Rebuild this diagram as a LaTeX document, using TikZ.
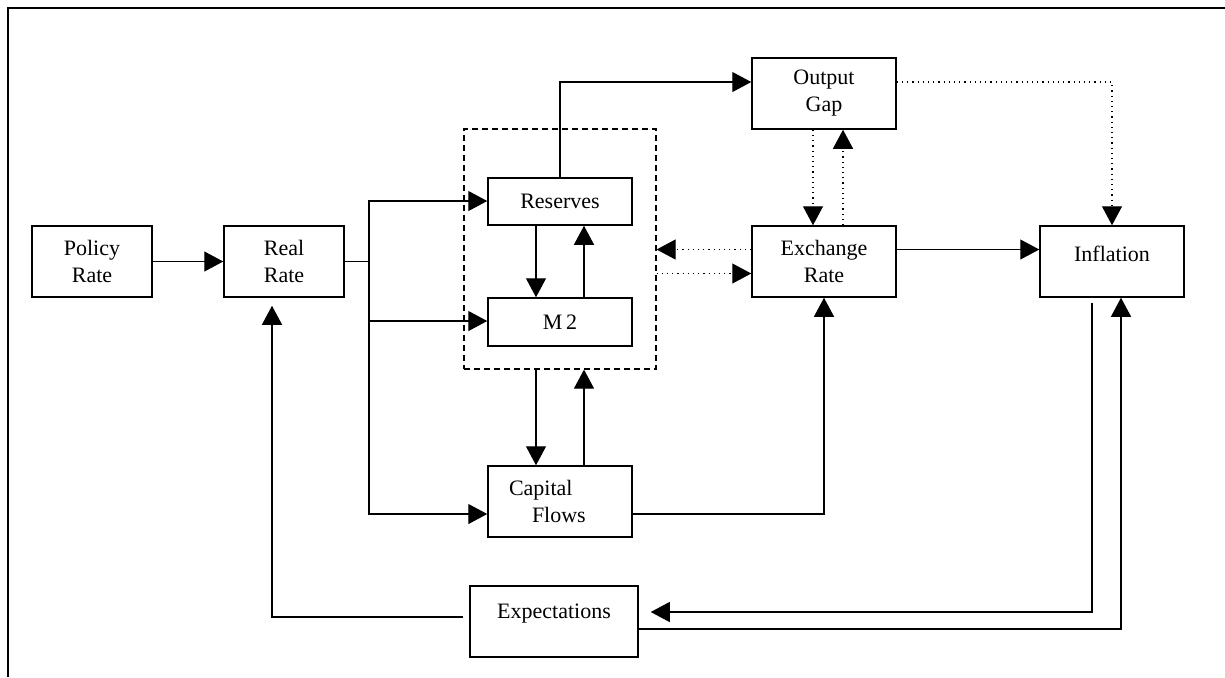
\documentclass[tikz,border=0pt]{standalone}
\usepackage{fontspec}
\setmainfont{Liberation Serif}
\usetikzlibrary{arrows.meta}

\begin{document}
\begin{tikzpicture}[x=.5pt, y=-.5pt, >={Triangle[length=9.5pt, width=10pt]},
  line width=.6pt, box/.style={draw, line width=.75pt, minimum width=72pt,
  minimum height=35.5pt, inner sep=0pt, align=center,
  font=\fontsize{11}{13.5}\selectfont}]
\useasboundingbox (0, 0) rectangle (1225, 677);
\draw [line width=.9pt] (1225, 8) -- (8, 8) -- (8, 677);
\node [box, minimum width=60pt] (policy) at (92, 261.5) {Policy\\Rate};
\node [box, minimum width=60pt] (real) at (284, 261.5) {Real\\Rate};
\node [box, minimum height=23.5pt] (reserves) at (560, 201.5) {Reserves};
\node [box, minimum height=24pt] (m2) at (560, 322) {M\,2};
\node [box, text width=51pt, align=left] (capital) at (560, 501.5)
  {Capital\\\hspace*{11.5pt}Flows};
\node [box, minimum width=84pt, text depth=10pt] (expect) at (554, 621.5) {Expectations};
\node [box] (output) at (824, 93.5) {Output\\Gap};
\node [box] (exchange) at (824, 261.5) {Exchange\\Rate};
\node [box, text depth=8pt] (inflation) at (1112, 261.5) {Inflation};
\node [draw, dash pattern=on 3pt off 2pt, minimum width=96pt, minimum height=120pt]
  (money) at (560, 249) {};
\coordinate (split1) at (369, 201);
\coordinate (split2) at (369, 321);
\coordinate (split3) at (369, 514);
\draw [->] (policy) -- (real);
\draw (real.east) -- (real.east -| split1) (split1) -- (split3);
\foreach \s/\t in {split1/reserves, split2/m2, split3/capital}
  \draw [->] ([xshift=-.5pt]\s) -- (\s -| \t.west);
\draw [->] (reserves.north) |- ([yshift=5.75pt]output.west);
\draw [->] ([xshift=-12pt]reserves.south) -- ([xshift=-12pt]m2.north);
\draw [->] ([xshift=12pt]m2.north) -- ([xshift=12pt]reserves.south);
\draw [->] ([xshift=-12pt]money.south) -- ([xshift=-12pt]capital.north);
\draw [->] ([xshift=12pt]capital.north) -- ([xshift=12pt]money.south);
\draw [->, dotted] ([yshift=6pt]exchange.west) -- ([yshift=6pt]exchange.west -| money.east);
\draw [->, dotted] ([yshift=-6pt]exchange.west -| money.east) -- ([yshift=-6pt]exchange.west);
\draw [->, dotted] ([xshift=-5.5pt]output.south) -- ([xshift=-5.5pt]exchange.north);
\draw [->, dotted] ([xshift=9.5pt]exchange.north) -- ([xshift=9.5pt]output.south);
\draw [->, dotted] ([yshift=5.75pt]output.east) -| (inflation.north);
\draw [->] ([yshift=6pt]exchange.east) -- ([yshift=6pt]exchange.east -| inflation.west);
\draw [->] (capital.east |- split3) -| (exchange.south);
\draw [->] ([xshift=-10pt, yshift=-2.5pt]inflation.south)
  |- ([xshift=6pt, yshift=4.75pt]expect.east);
\draw [->] ([yshift=-3.75pt]expect.east) -| ([xshift=4.5pt]inflation.south);
\draw [->] ([xshift=-3pt, yshift=2.25pt]expect.west)
  -| ([xshift=-6pt, yshift=-4pt]real.south);
\end{tikzpicture}
\end{document}
